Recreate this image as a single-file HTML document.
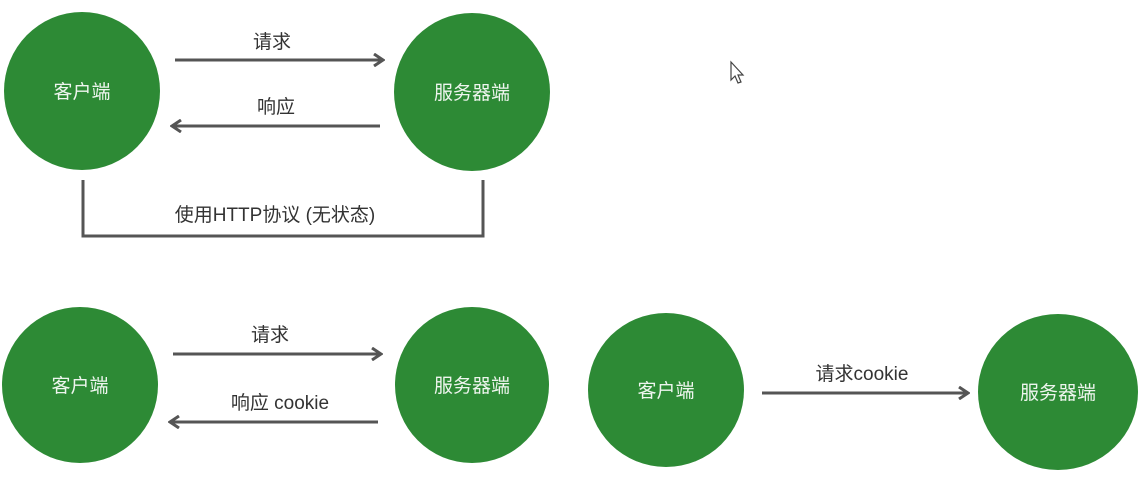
<!DOCTYPE html>
<html><head><meta charset="utf-8"><style>
html,body{margin:0;padding:0;background:#fff;}
svg{display:block;}
text{font-family:"Liberation Sans","Noto Sans CJK SC",sans-serif;}
</style></head><body>
<svg width="1140" height="480" viewBox="0 0 1140 480">
<defs>
<marker id="a" markerWidth="12" markerHeight="14" refX="10" refY="7" orient="auto" markerUnits="userSpaceOnUse">
<path d="M1,1 L10,7 L1,13" fill="none" stroke="#555" stroke-width="3"/>
</marker>
</defs>
<g fill="#2d8a35">
<ellipse cx="82" cy="91" rx="78" ry="79"/>
<ellipse cx="472" cy="92" rx="78" ry="79"/>
<ellipse cx="80" cy="385" rx="78" ry="78"/>
<ellipse cx="472" cy="385" rx="77" ry="78"/>
<ellipse cx="666" cy="390" rx="78" ry="77"/>
<ellipse cx="1058" cy="392" rx="80" ry="78"/>
</g>
<g fill="#eef5ee" font-size="19" text-anchor="middle">
<text x="82" y="98">客户端</text>
<text x="472" y="99">服务器端</text>
<text x="80" y="392">客户端</text>
<text x="472" y="392">服务器端</text>
<text x="666" y="397">客户端</text>
<text x="1058" y="399">服务器端</text>
</g>
<g stroke="#555" stroke-width="3" fill="none">
<line x1="175" y1="60" x2="383" y2="60" marker-end="url(#a)"/>
<line x1="380" y1="126" x2="172" y2="126" marker-end="url(#a)"/>
<polyline points="83,180 83,236 483,236 483,180"/>
<line x1="173" y1="354" x2="381" y2="354" marker-end="url(#a)"/>
<line x1="378" y1="422" x2="170" y2="422" marker-end="url(#a)"/>
<line x1="762" y1="393" x2="968" y2="393" marker-end="url(#a)"/>
</g>
<g fill="#333" font-size="19" text-anchor="middle">
<text x="272" y="48">请求</text>
<text x="276" y="113">响应</text>
<text x="275" y="221">使用HTTP协议 (无状态)</text>
<text x="270" y="341">请求</text>
<text x="280" y="409">响应 cookie</text>
<text x="862" y="380">请求cookie</text>
</g>
<path d="M731,62 L731,80 L735,76 L738,83 L741,82 L738,75 L743,75 Z" fill="#fff" stroke="#444" stroke-width="1.2"/>
</svg>
</body></html>
